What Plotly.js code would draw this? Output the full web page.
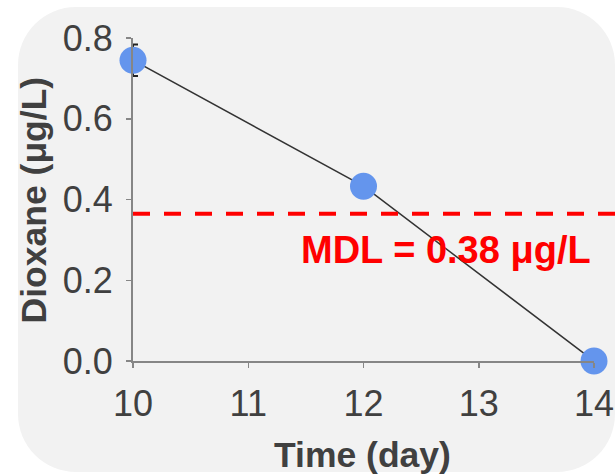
<!DOCTYPE html>
<html>
<head>
<meta charset="utf-8">
<script src="https://cdn.plot.ly/plotly-3.0.1.min.js"></script>
<style>
  html, body { margin: 0; padding: 0; background: #ffffff; }
  #bg { position: absolute; left: 18px; top: 7px; width: 597px; height: 465px;
        background: #f2f2f2; border-radius: 58px; }
  #chart { position: absolute; left: 0; top: 0; width: 615px; height: 474px; }
</style>
</head>
<body>
<div id="bg"></div>
<div id="chart"></div>
<script>
// Data
const days = [10, 12, 14];
const dioxane = [0.745, 0.433, 0.0];
const dioxaneErr = [0.039, 0, 0];
const mdlValue = [0.365];
const mdlLabel = "MDL = 0.38 μg/L";
const xTicks = [10, 11, 12, 13, 14];
const yTicks = [0.0, 0.2, 0.4, 0.6, 0.8];

const font = "Arial, 'Liberation Sans', sans-serif";
const grey = "#404040";

const trace = {
  x: days,
  y: dioxane,
  type: "scatter",
  mode: "lines+markers",
  line: { color: "#333333", width: 1.5 },
  marker: { color: "#6495ED", size: 27 },
  error_y: { type: "data", array: dioxaneErr, visible: true, color: "#222222", thickness: 2, width: 5 },
  cliponaxis: false,
  hoverinfo: "skip"
};

const layout = {
  width: 615,
  height: 474,
  margin: { l: 133, r: 21, t: 38, b: 113 },
  paper_bgcolor: "rgba(0,0,0,0)",
  plot_bgcolor: "rgba(0,0,0,0)",
  showlegend: false,
  font: { family: font, color: grey },
  xaxis: {
    range: [10, 14],
    tickvals: xTicks,
    ticktext: xTicks.map(String),
    showgrid: false,
    zeroline: false,
    showline: true,
    linecolor: "#868686",
    linewidth: 2,
    ticks: "outside",
    ticklen: 5,
    tickwidth: 1.5,
    tickcolor: "#868686",
    ticklabelstandoff: 5,
    tickfont: { family: font, size: 36, color: grey },
    fixedrange: true
  },
  yaxis: {
    range: [0, 0.8],
    tickvals: yTicks,
    ticktext: yTicks.map(v => v.toFixed(1)),
    showgrid: false,
    zeroline: false,
    showline: true,
    linecolor: "#868686",
    linewidth: 2,
    ticks: "outside",
    ticklen: 5,
    tickwidth: 1.5,
    tickcolor: "#868686",
    ticklabelstandoff: 6,
    tickfont: { family: font, size: 36, color: grey },
    fixedrange: true
  },
  shapes: [{
    type: "line",
    xref: "paper", x0: 0, x1: 1.05,
    yref: "y", y0: mdlValue[0], y1: mdlValue[0],
    line: { color: "#ff0000", width: 4, dash: "17px,14px" },
    layer: "above"
  }],
  annotations: [
    {
      text: mdlLabel, xref: "x", yref: "y", x: 12.716, y: 0.276,
      xanchor: "center", yanchor: "middle", showarrow: false,
      font: { family: font, size: 38, color: "#ff0000", weight: "bold" }
    },
    {
      text: "Time (day)", xref: "paper", yref: "paper", x: 0.497, y: -0.291,
      xanchor: "center", yanchor: "middle", showarrow: false,
      font: { family: font, size: 35.5, color: grey, weight: "bold" }
    },
    {
      text: "Dioxane (μg/L)", xref: "paper", yref: "paper", x: -0.215, y: 0.5,
      xanchor: "center", yanchor: "middle", showarrow: false, textangle: -90,
      font: { family: font, size: 35.5, color: grey, weight: "bold" }
    }
  ]
};

Plotly.newPlot("chart", [trace], layout, { displayModeBar: false, staticPlot: true });
</script>
</body>
</html>
